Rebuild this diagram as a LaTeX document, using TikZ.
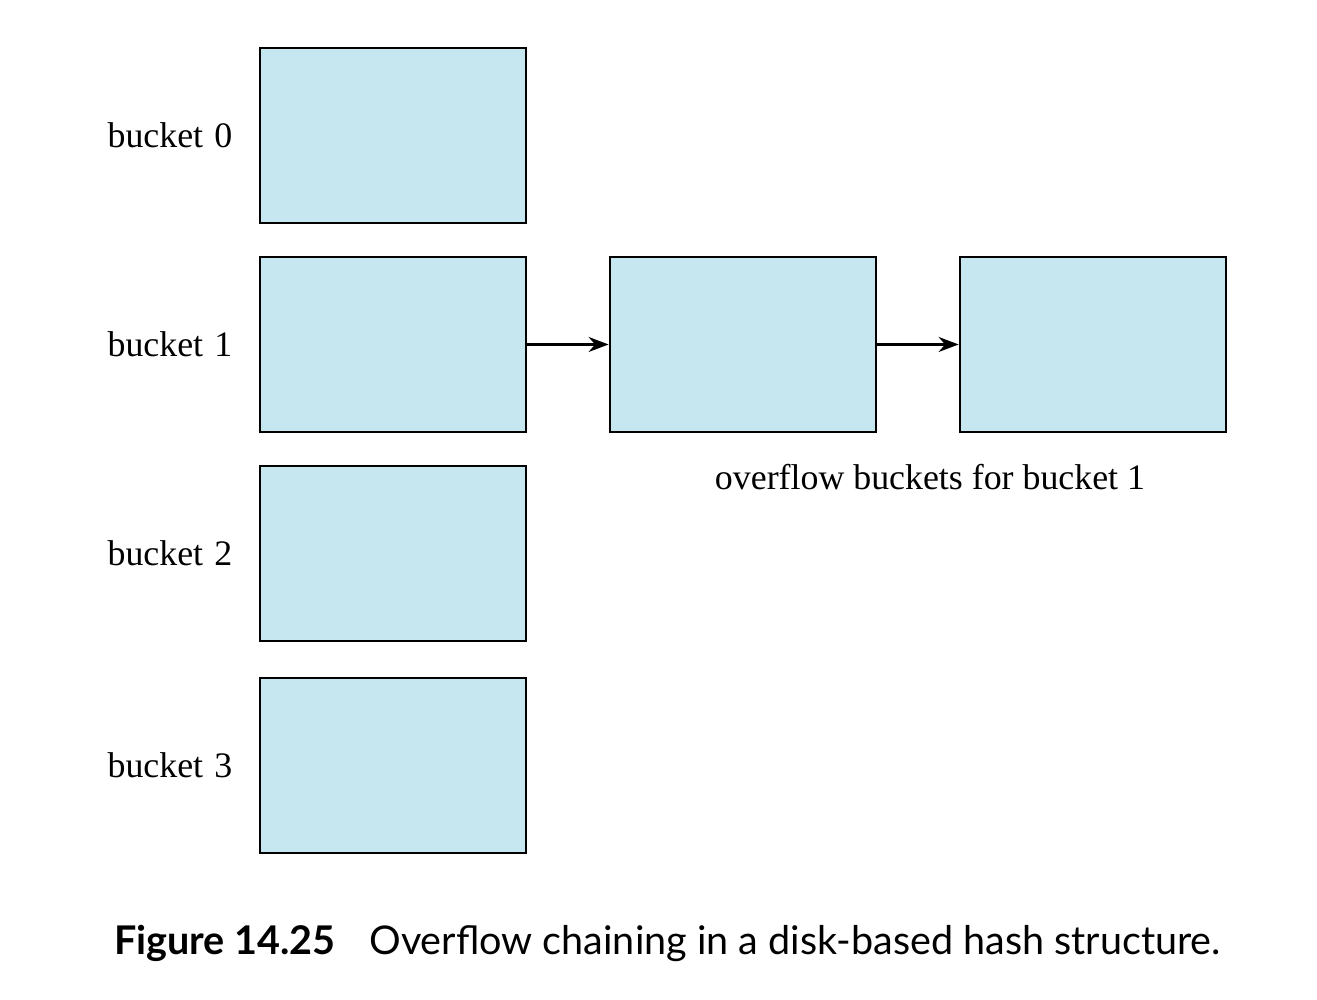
\documentclass[tikz,border=0pt]{standalone}
\usepackage{fontspec}
\setmainfont{Liberation Serif}
\newfontfamily\capfont{Lato}
\usetikzlibrary{arrows.meta,positioning}
\definecolor{bucketblue}{HTML}{C6E6F0}
\tikzset{
  bucketbox/.style={draw, line width=0.8pt, fill=bucketblue, minimum width=2.66cm, minimum height=1.75cm, inner sep=0pt},
  chain/.style={-{Stealth[length=2mm,width=1.5mm]}, line width=0.6pt},
}

\begin{document}
\begin{tikzpicture}[font=\fontsize{10.2}{12}\selectfont]
            \useasboundingbox (0,0) rectangle (13.17,10);
            \node[bucketbox] (B0) at (3.93,8.645) {};
            \node[bucketbox] (B1) at (3.93,6.555) {};
            \node[bucketbox] (B2) at (3.93,4.465) {};
            \node[bucketbox] (B3) at (3.93,2.345) {};
            \node[bucketbox] (Ov0) at (7.43,6.555) {};
            \node[bucketbox] (Ov1) at (10.93,6.555) {};
            \node[left=0.14cm of B0] (L0) {bucket\hspace{0.06em} 0};
            \node[left=0.14cm of B1] (L1) {bucket\hspace{0.06em} 1};
            \node[left=0.14cm of B2] (L2) {bucket\hspace{0.06em} 2};
            \node[left=0.14cm of B3] (L3) {bucket\hspace{0.06em} 3};
            \node (OvL) at (9.3,5.23) {overflow buckets for bucket 1};
            \draw[chain] (B1) -- (Ov0);
            \draw[chain] (Ov0) -- (Ov1);
            \node[font=\capfont\fontsize{11.25}{13}\selectfont] (Cap) at (6.675,0.57) {\textbf{Figure 14.25}\hspace{0.6em} Overflow chaining in a disk-based hash structure.};
        \end{tikzpicture}
\end{document}
